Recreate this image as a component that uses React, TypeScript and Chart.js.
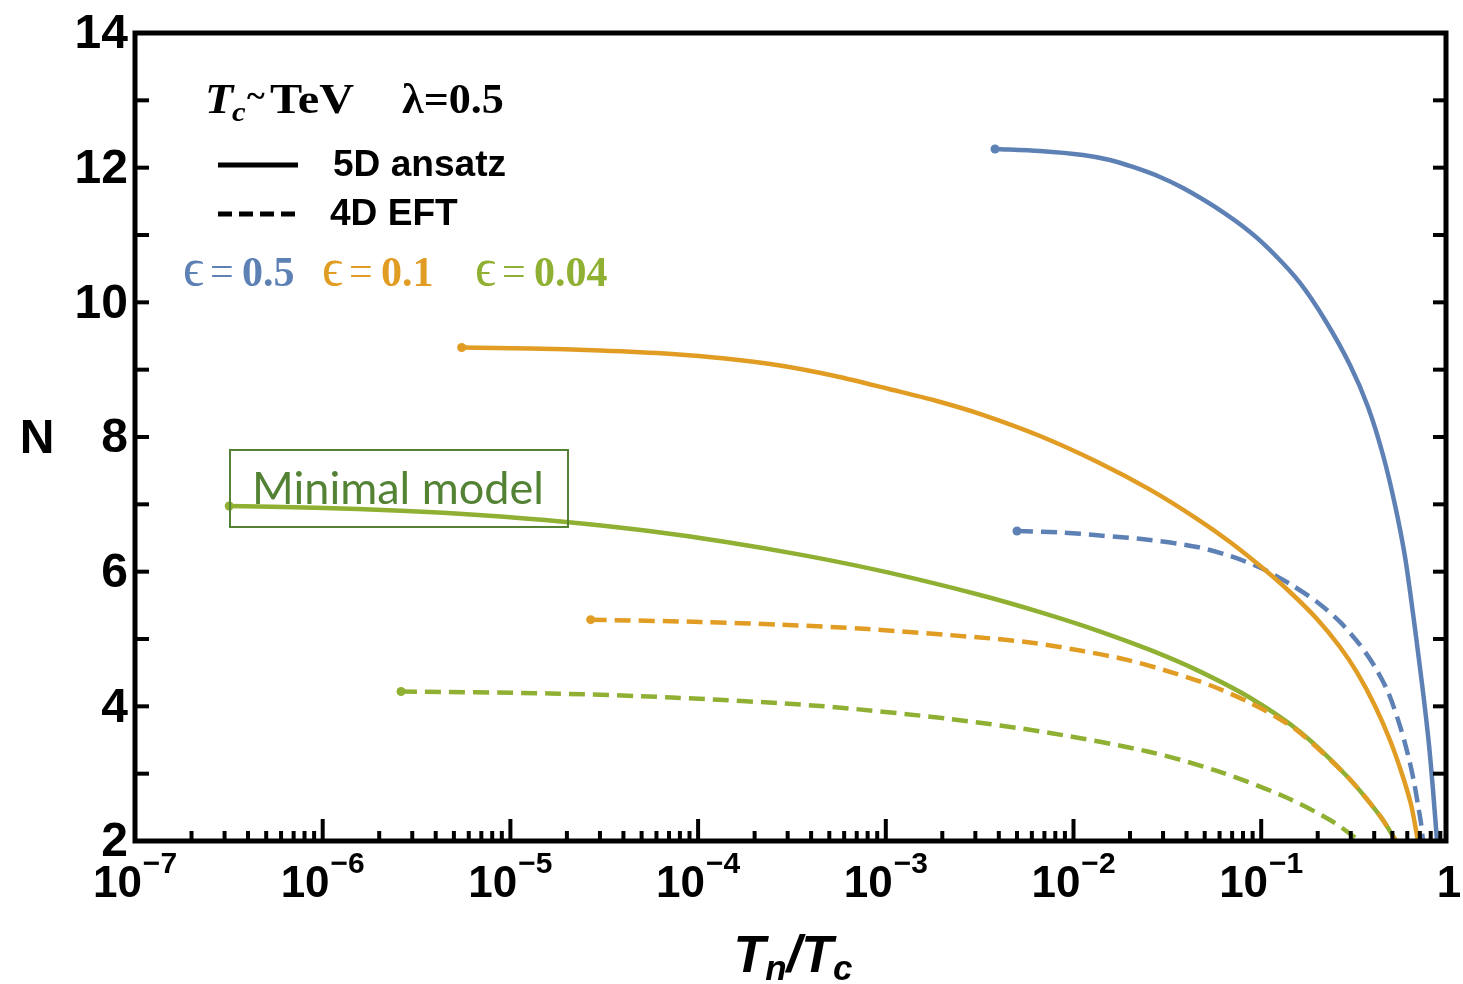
import React, { useEffect, useRef } from "react";
import { Chart, registerables } from "chart.js";

Chart.register(...registerables);

const BLUE = "#5E81B5";
const ORANGE = "#E19C24";
const GREEN = "#8FB032";

// epsilon = 0.5, 5D ansatz (solid)
const blueSolidX = [0.003817, 0.00663, 0.011233, 0.015646, 0.020749, 0.02889, 0.038334, 0.056741, 0.087157, 0.11844, 0.16093, 0.21872, 0.29717, 0.37068, 0.44556, 0.51628, 0.58371, 0.64374, 0.69295, 0.73662, 0.78343, 0.82282, 0.86418];
const blueSolidY = [12.278, 12.248, 12.189, 12.114, 12.01, 11.862, 11.698, 11.416, 11.045, 10.703, 10.288, 9.738, 9.07, 8.446, 7.733, 6.99, 6.22, 5.38, 4.688, 4.094, 3.426, 2.757, 2.0];
// epsilon = 0.5, 4D EFT (dashed)
const blueDashX = [0.005, 0.008475, 0.013841, 0.025564, 0.045499, 0.068219, 0.10224, 0.14234, 0.19826, 0.26291, 0.33605, 0.40402, 0.47371, 0.54888, 0.60562, 0.6518, 0.68438, 0.71007, 0.72778];
const blueDashY = [6.604, 6.582, 6.537, 6.471, 6.367, 6.233, 6.04, 5.817, 5.55, 5.253, 4.911, 4.584, 4.213, 3.708, 3.277, 2.876, 2.535, 2.267, 2.0];
// epsilon = 0.1, 5D ansatz (solid)
const orangeSolidX = [5.5e-6, 1.272e-5, 3.002e-5, 7.261e-5, 1.39e-4, 2.731e-4, 5.363e-4, 1.04e-3, 1.829e-3, 3.254e-3, 6.63e-3, 0.01342, 0.02556, 0.0455, 0.06822, 0.1022, 0.1423, 0.1983, 0.2629, 0.3238, 0.404, 0.4857, 0.5625, 0.6283, 0.6844];
const orangeSolidY = [9.33, 9.315, 9.285, 9.233, 9.166, 9.062, 8.906, 8.713, 8.542, 8.333, 8.015, 7.629, 7.218, 6.785, 6.441, 6.05, 5.698, 5.297, 4.881, 4.503, 4.005, 3.496, 2.995, 2.541, 2.0];
// epsilon = 0.1, 4D EFT (dashed)
const orangeDashX = [2.678e-5, 1.023e-4, 2.731e-4, 8.04e-4, 3.177e-3, 5.865e-3, 0.01083, 0.01928, 0.0343, 0.05469, 0.08716, 0.1184, 0.1609, 0.2865, 0.4295, 0.5227];
const orangeDashY = [5.287, 5.254, 5.213, 5.147, 5.022, 4.948, 4.829, 4.69, 4.494, 4.302, 4.054, 3.854, 3.608, 2.961, 2.373, 2.0];
// epsilon = 0.04, 5D ansatz (solid)
const greenSolidX = [3.176e-7, 9.1e-7, 2.614e-6, 7.058e-6, 1.92e-5, 5.215e-5, 1.411e-4, 3.803e-4, 1.037e-3, 3.177e-3, 6.63e-3, 0.01342, 0.02556, 0.0455, 0.08716, 0.1609, 0.2865, 0.4295, 0.5227];
const greenSolidY = [6.975, 6.95, 6.904, 6.837, 6.741, 6.61, 6.441, 6.234, 5.985, 5.654, 5.4, 5.126, 4.838, 4.538, 4.128, 3.623, 2.961, 2.373, 2.0];
// epsilon = 0.04, 4D EFT (dashed)
const greenDashX = [2.614e-6, 1.626e-5, 7.26e-5, 4.461e-4, 2.198e-3, 7.495e-3, 0.02556, 0.05813, 0.1307, 0.2326, 0.336];
const greenDashY = [4.22, 4.191, 4.131, 4.005, 3.812, 3.604, 3.322, 3.04, 2.668, 2.312, 2.0];

const yTickLabels = [2, 4, 6, 8, 10, 12, 14];
const yMinorTicks = [2, 3, 4, 5, 6, 7, 8, 9, 10, 11, 12, 13, 14];
const xDecadeExponents = [-7, -6, -5, -4, -3, -2, -1, 0];
const minorMultipliers = [2, 3, 4, 5, 6, 7, 8, 9];
const epsValues = ["0.5", "0.1", "0.04"];
const epsColors = [BLUE, ORANGE, GREEN];
const styleLabels = ["5D ansatz", "4D EFT"];

const SANS = '"Liberation Sans", Arial, sans-serif';
const SERIF = '"Liberation Serif", "Times New Roman", "DejaVu Serif", serif';

export default function App() {
  const ref = useRef<HTMLCanvasElement>(null);

  useEffect(() => {
    const canvas = ref.current!;
    const pts = (xs: number[], ys: number[]) => xs.map((x, i) => ({ x, y: ys[i] }));
    const ds = (label: string, xs: number[], ys: number[], color: string, dashed: boolean) => ({
      label,
      data: pts(xs, ys),
      borderColor: color,
      backgroundColor: color,
      borderWidth: 4.5,
      borderDash: dashed ? [16, 8] : [],
      borderCapStyle: "butt",
      pointRadius: (c: any) => (c.dataIndex === 0 ? 4.5 : 0),
      pointHoverRadius: 0,
      pointBorderWidth: 0,
      tension: 0.3,
      fill: false,
    });

    const line = (ctx: CanvasRenderingContext2D, x1: number, y1: number, x2: number, y2: number) => {
      ctx.beginPath();
      ctx.moveTo(x1, y1);
      ctx.lineTo(x2, y2);
      ctx.stroke();
    };
    const stretched = (ctx: CanvasRenderingContext2D, t: string, x: number, y: number, sx: number) => {
      ctx.save();
      ctx.translate(x, y);
      ctx.scale(sx, 1);
      ctx.fillText(t, 0, 0);
      ctx.restore();
    };

    const decor = {
      id: "decor",
      afterDraw(chart: any) {
        const { ctx, chartArea: a } = chart;
        const xs = chart.scales.x;
        const ys = chart.scales.y;
        ctx.save();
        ctx.strokeStyle = "#000";
        ctx.fillStyle = "#000";
        ctx.setLineDash([]);
        ctx.lineCap = "butt";

        // ticks
        ctx.lineWidth = 4;
        for (const n of yMinorTicks) {
          const py = ys.getPixelForValue(n);
          line(ctx, a.left, py, a.left + 14, py);
          line(ctx, a.right - 13, py, a.right, py);
        }
        for (const e of xDecadeExponents) {
          const px = xs.getPixelForValue(Math.pow(10, e));
          if (px <= a.right) line(ctx, px, a.bottom, px, a.bottom - 22);
          if (e < 0) {
            for (const k of minorMultipliers) {
              const mx = xs.getPixelForValue(k * Math.pow(10, e));
              if (mx <= a.right - 2) line(ctx, mx, a.bottom, mx, a.bottom - 10);
            }
          }
        }
        // frame
        ctx.lineWidth = 5;
        ctx.strokeRect(a.left, a.top, a.right - a.left, a.bottom - a.top);

        // y tick labels
        ctx.font = `bold 48px ${SANS}`;
        ctx.textAlign = "right";
        ctx.textBaseline = "middle";
        for (const v of yTickLabels) {
          ctx.fillText(String(v), a.left - 7, ys.getPixelForValue(v) + 2);
        }

        // x tick labels
        ctx.textBaseline = "alphabetic";
        ctx.textAlign = "left";
        for (const e of xDecadeExponents) {
          const px = xs.getPixelForValue(Math.pow(10, e));
          if (e === 0) {
            ctx.font = `bold 44px ${SANS}`;
            const w = ctx.measureText("1").width;
            ctx.fillText("1", px - w / 2, 897);
            continue;
          }
          ctx.font = `bold 44px ${SANS}`;
          const base = "10";
          const wb = ctx.measureText(base).width;
          ctx.font = `bold 30px ${SANS}`;
          const sup = "\u2212" + String(-e);
          const ws = ctx.measureText(sup).width;
          const total = wb + ws + 1;
          const x0 = px - total / 2;
          ctx.font = `bold 44px ${SANS}`;
          ctx.fillText(base, x0, 897);
          ctx.font = `bold 30px ${SANS}`;
          ctx.fillText(sup, x0 + wb + 1, 873);
        }

        // x axis title T_n / T_c
        {
          const big = `italic bold 52px ${SANS}`;
          const small = `italic bold 35px ${SANS}`;
          const parts: [string, string, number][] = [
            ["T", big, 0],
            ["n", small, 8],
            ["/", big, 0],
            ["T", big, 0],
            ["c", small, 8],
          ];
          let tw = 0;
          const widths = parts.map(([t, f]) => {
            ctx.font = f;
            const w = ctx.measureText(t).width;
            tw += w;
            return w;
          });
          let cx = 793 - tw / 2;
          const by = 972;
          parts.forEach(([t, f, dy], i) => {
            ctx.font = f;
            ctx.fillText(t, cx, by + dy);
            cx += widths[i];
          });
        }

        // y axis title
        ctx.font = `bold 48px ${SANS}`;
        ctx.textAlign = "center";
        ctx.textBaseline = "middle";
        ctx.fillText("N", 37, 440);

        // header: T_c ~ TeV   lambda=0.5
        ctx.textAlign = "left";
        ctx.textBaseline = "alphabetic";
        ctx.font = `italic bold 42px ${SERIF}`;
        stretched(ctx, "T", 205, 113, 1.1);
        ctx.font = `italic bold 28px ${SERIF}`;
        stretched(ctx, "c", 232, 121, 1.1);
        ctx.font = `bold 34px ${SERIF}`;
        stretched(ctx, "~", 247, 107, 1.0);
        ctx.font = `bold 42px ${SERIF}`;
        stretched(ctx, "TeV", 270, 113, 1.15);
        stretched(ctx, "\u03bb=0.5", 402, 113, 1.05);

        // style legend
        ctx.lineWidth = 5;
        line(ctx, 218, 165, 298, 165);
        ctx.setLineDash([14, 7]);
        line(ctx, 218, 214, 298, 214);
        ctx.setLineDash([]);
        ctx.font = `bold 36px ${SANS}`;
        ctx.textBaseline = "middle";
        stretched(ctx, styleLabels[0], 333, 166, 1.03);
        stretched(ctx, styleLabels[1], 330, 215, 1.03);

        // epsilon labels
        ctx.textBaseline = "alphabetic";
        const epsX = [183, 322, 475];
        epsValues.forEach((v, i) => {
          ctx.fillStyle = epsColors[i];
          ctx.font = `52px ${SERIF}`;
          ctx.fillText("\u03f5", epsX[i], 285);
          ctx.font = `42px ${SERIF}`;
          ctx.fillText("=", epsX[i] + 27, 285);
          ctx.font = `bold 42px ${SERIF}`;
          ctx.fillText(v, epsX[i] + 59, 286);
        });

        // Minimal model box
        ctx.strokeStyle = "#548235";
        ctx.lineWidth = 2;
        ctx.strokeRect(230, 450, 338, 77);
        ctx.fillStyle = "#548235";
        ctx.font = `42px Lato, "Open Sans", sans-serif`;
        const mw = ctx.measureText("Minimal model").width;
        const fs = 42 * (292 / mw);
        ctx.font = `${fs}px Lato, "Open Sans", sans-serif`;
        ctx.fillText("Minimal model", 252, 504);

        ctx.restore();
      },
    };

    const chart = new Chart(canvas, {
      type: "line",
      data: {
        datasets: [
          ds("eps=0.04 4D", greenDashX, greenDashY, GREEN, true),
          ds("eps=0.1 4D", orangeDashX, orangeDashY, ORANGE, true),
          ds("eps=0.04 5D", greenSolidX, greenSolidY, GREEN, false),
          ds("eps=0.1 5D", orangeSolidX, orangeSolidY, ORANGE, false),
          ds("eps=0.5 4D", blueDashX, blueDashY, BLUE, true),
          ds("eps=0.5 5D", blueSolidX, blueSolidY, BLUE, false),
        ] as any,
      },
      options: {
        responsive: false,
        maintainAspectRatio: false,
        animation: false,
        events: [],
        layout: { padding: { left: 135, right: 1463 - 1446, top: 33, bottom: 984 - 841 } },
        plugins: { legend: { display: false }, tooltip: { enabled: false } },
        scales: {
          x: { type: "logarithmic", min: 1e-7, max: 0.965, display: false },
          y: { type: "linear", min: 2, max: 14, display: false },
        },
      } as any,
      plugins: [decor],
    });
    return () => chart.destroy();
  }, []);

  return (
    <div style={{ position: "fixed", left: 0, top: 0, width: 1463, height: 984, background: "#fff" }}>
      <canvas ref={ref} width={1463} height={984} style={{ display: "block" }} />
    </div>
  );
}
